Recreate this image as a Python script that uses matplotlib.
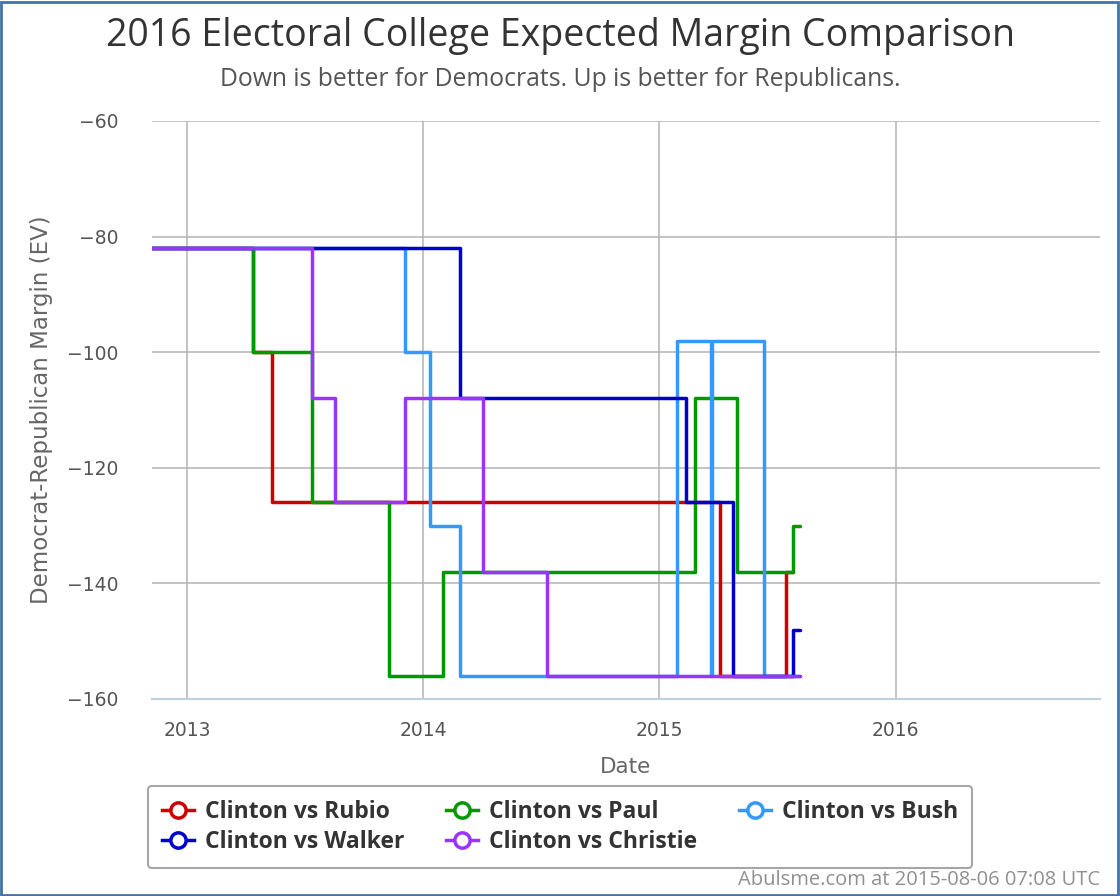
import matplotlib
matplotlib.use('Agg')

import matplotlib.pyplot as plt
import matplotlib.dates as mdates
from matplotlib.lines import Line2D
from matplotlib.patches import Rectangle
import numpy as np

# step data (date of change, new margin)
rubio_dates = ["2012-10-01", "2013-04-13", "2013-05-12", "2015-04-05", "2015-07-15", "2015-07-26"]
rubio_vals = [-82, -100, -126, -156, -138, -138]

paul_dates = ["2012-10-01", "2013-04-13", "2013-07-14", "2013-11-10", "2014-01-31",
              "2015-02-25", "2015-05-01", "2015-07-26", "2015-08-06"]
paul_vals = [-82, -100, -126, -156, -138, -108, -138, -130, -130]

bush_dates = ["2012-10-01", "2013-12-04", "2014-01-11", "2014-02-27", "2015-01-28",
              "2015-03-22", "2015-03-23", "2015-06-12", "2015-08-06"]
bush_vals = [-82, -100, -130, -156, -98, -156, -98, -156, -156]

walker_dates = ["2012-10-01", "2014-02-27", "2015-02-11", "2015-04-25", "2015-07-26", "2015-08-06"]
walker_vals = [-82, -108, -126, -156, -148, -148]

christie_dates = ["2012-10-01", "2013-07-14", "2013-08-18", "2013-12-04", "2014-04-04",
                  "2014-07-12", "2015-08-06"]
christie_vals = [-82, -108, -126, -108, -138, -156, -156]

series = [
    ("Clinton vs Rubio", rubio_dates, rubio_vals, "#cc0000"),
    ("Clinton vs Paul", paul_dates, paul_vals, "#009900"),
    ("Clinton vs Bush", bush_dates, bush_vals, "#3399ff"),
    ("Clinton vs Walker", walker_dates, walker_vals, "#0000cc"),
    ("Clinton vs Christie", christie_dates, christie_vals, "#9933ff"),
]

fig = plt.figure(figsize=(11.2, 8.96), dpi=100)
ax = fig.add_axes([152 / 1120, 1 - 699 / 896, (1100 - 152) / 1120, (699 - 121) / 896])

handles = {}
for name, d, v, c in series:
    x = np.array(d, dtype="datetime64[D]")
    ax.step(x, v, where="post", color=c, linewidth=2.5, solid_capstyle="round",
            solid_joinstyle="round")
    handles[name] = Line2D([], [], color=c, linewidth=2.5, marker="o", markersize=11,
                           markerfacecolor="white", markeredgecolor=c, markeredgewidth=2.5)

ax.set_xlim(np.datetime64("2012-11-08"), np.datetime64("2016-11-12"))
ax.set_ylim(-160, -60)
ax.set_yticks(np.arange(-160, -59, 20))
ax.xaxis.set_major_locator(mdates.YearLocator())
ax.xaxis.set_major_formatter(mdates.DateFormatter("%Y"))

ax.grid(True, color="#b3b3b3", linewidth=1.1)
ax.set_axisbelow(True)
for s in ["left", "right", "top"]:
    ax.spines[s].set_visible(False)
ax.spines["bottom"].set_color("#c0d0e0")
ax.spines["bottom"].set_linewidth(1.5)
ax.tick_params(axis="both", length=0, labelsize=13.5, labelcolor="#555555")
ax.tick_params(axis="y", pad=24)
ax.tick_params(axis="x", pad=16)

ax.set_xlabel("Date", fontsize=15.5, color="#666666", labelpad=12)
ax.set_ylabel("Democrat-Republican Margin (EV)", fontsize=16.5, color="#666666")
ax.yaxis.set_label_coords(-0.104, 0.5)

fig.text(0.5, 1 - 36 / 896, "2016 Electoral College Expected Margin Comparison",
         ha="center", va="center", fontsize=27, color="#333333", family="Open Sans")
fig.text(0.5, 1 - 80 / 896, "Down is better for Democrats. Up is better for Republicans.",
         ha="center", va="center", fontsize=17.8, color="#555555", family="Open Sans")
fig.text(1100 / 1120, 1 - 880 / 896, "Abulsme.com at 2015-08-06 07:08 UTC",
         ha="right", va="center", fontsize=14.5, color="#909090", family="Open Sans")

order = ["Clinton vs Rubio", "Clinton vs Walker", "Clinton vs Paul", "Clinton vs Christie",
         "Clinton vs Bush"]
leg = fig.legend([handles[n] for n in order], order, loc="center",
                 bbox_to_anchor=(560 / 1120, 1 - 827 / 896), ncol=3,
                 frameon=True, fancybox=True, edgecolor="#909090", handlelength=1.4,
                 columnspacing=1.8, handletextpad=0.5, labelspacing=0.3,
                 borderpad=0.6, borderaxespad=0,
                 prop={"weight": "bold", "size": 16.5, "family": "Open Sans"})
leg.get_frame().set_linewidth(1.5)
for t in leg.get_texts():
    t.set_color("#333333")

# outer border
fig.patches.append(Rectangle((0.001, 0.001), 0.997, 0.997, transform=fig.transFigure,
                             fill=False, edgecolor="#4572a7", linewidth=2))

plt.savefig("out.png", dpi=100)
